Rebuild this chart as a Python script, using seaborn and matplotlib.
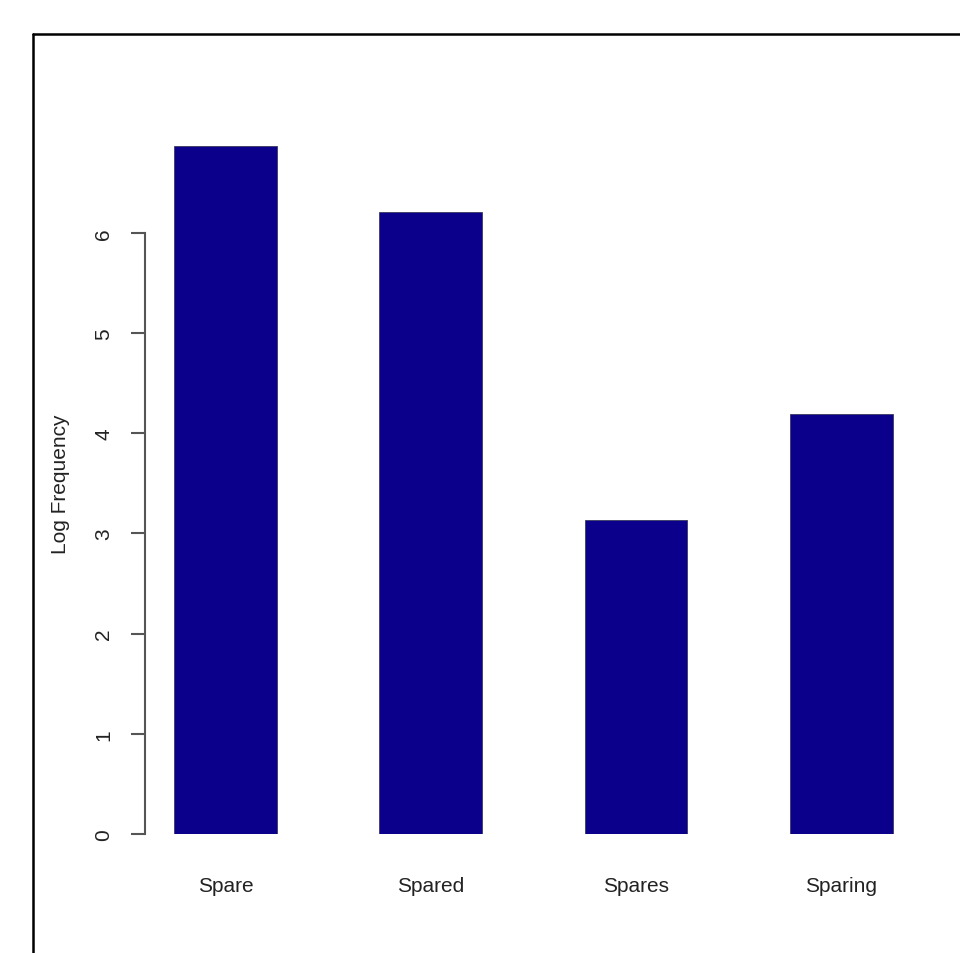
import matplotlib
matplotlib.use("Agg")
import matplotlib.pyplot as plt
import seaborn as sns
from matplotlib.lines import Line2D

# values
words = ["Spare", "Spared", "Spares", "Sparing"]
log_freq = [6.87, 6.21, 3.13, 4.19]
y_ticks = [0, 1, 2, 3, 4, 5, 6]

sns.set_theme(style="white")
plt.rcParams["font.family"] = ["Liberation Sans", "DejaVu Sans"]

fig = plt.figure(figsize=(9.6, 9.54), dpi=100)
ax = fig.add_axes([0.1510, 0.1247, 0.8094, 0.7352])

sns.barplot(x=words, y=log_freq, color="#0A008C", saturation=1, width=0.5,
            edgecolor="#3a3a60", linewidth=0.6, ax=ax)

ax.set_xlim(-0.392, 3.392)
ax.set_ylim(0, 7.0)

# R-style axes: only a left axis spanning the ticks
for side in ["top", "right", "bottom"]:
    ax.spines[side].set_visible(False)
ax.spines["left"].set_bounds(0, 6)
ax.spines["left"].set_color("#555555")
ax.spines["left"].set_linewidth(1.5)

ax.set_yticks(y_ticks)
ax.set_yticklabels([str(t) for t in y_ticks], rotation=90, va="center")
ax.tick_params(axis="y", length=10, width=1.5, color="#555555", pad=13,
               labelsize=15, labelcolor="#222222", left=True)
ax.tick_params(axis="x", length=0, pad=30, labelsize=15, labelcolor="#222222")

ax.set_xlabel("")
ax.set_ylabel("Log Frequency", fontsize=15, color="#222222", labelpad=17)

# outer frame, only top and left edge visible in the crop
fig.add_artist(Line2D([33 / 960, 33 / 960], [0, 1 - 35 / 954],
                      transform=fig.transFigure, color="black", lw=1.8))
fig.add_artist(Line2D([33 / 960, 1], [1 - 35 / 954, 1 - 35 / 954],
                      transform=fig.transFigure, color="black", lw=1.8))

fig.savefig("out.png", dpi=100, facecolor="white")
